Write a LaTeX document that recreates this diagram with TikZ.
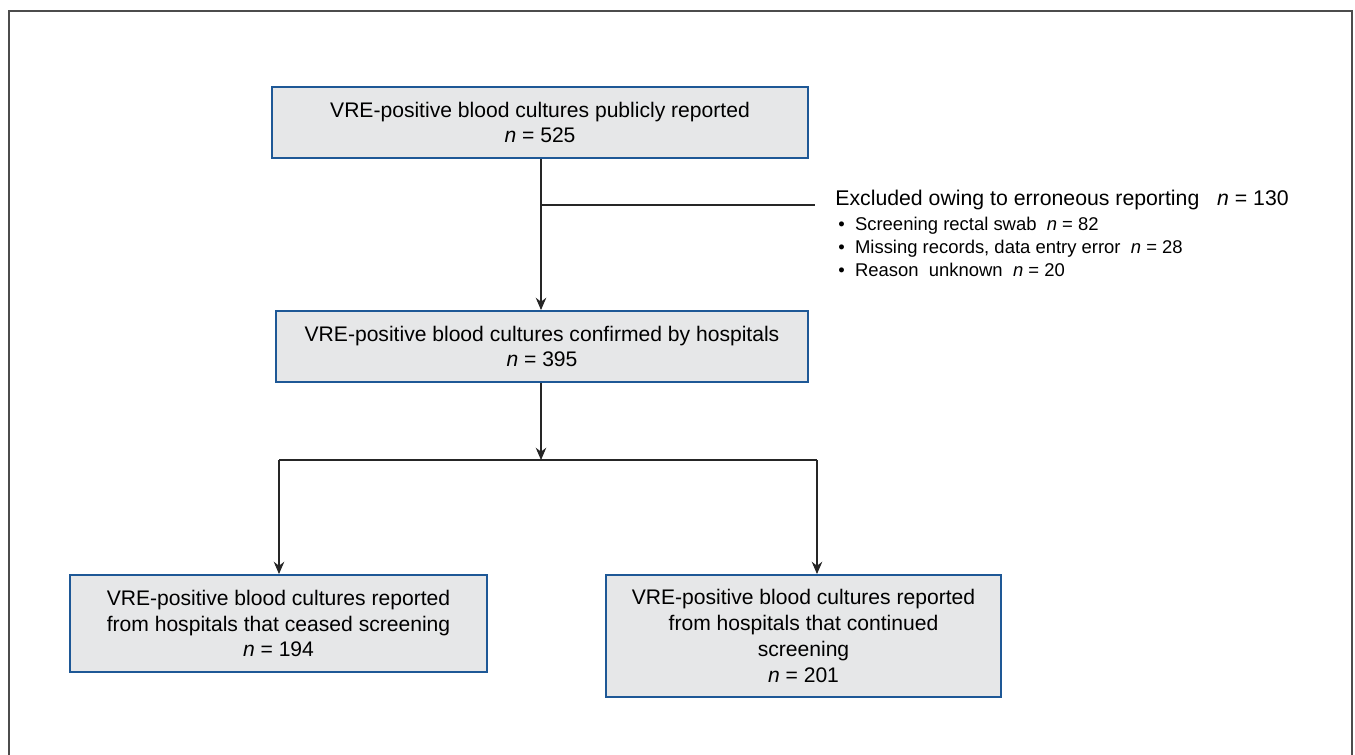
\documentclass[tikz,border=0pt]{standalone}
\usepackage{fontspec}
\setmainfont{Liberation Sans}
\usetikzlibrary{arrows.meta}
\definecolor{bleuboite}{RGB}{30,88,150}
\definecolor{grisboite}{RGB}{230,231,232}
\newcommand{\effectif}[1]{\textit{n} = #1}

\begin{document}
\begin{tikzpicture}
\tikzstyle{lien}=[->,>={Stealth[length=7pt,width=6pt]},line width=0.6pt,draw=black!85]
\tikzstyle{trait}=[line width=1.3pt,draw=black!85]
\tikzset{boite/.style={draw=bleuboite,line width=1.1pt,fill=grisboite,align=center,
font=\fontsize{12}{14.7}\selectfont,minimum width=#1,minimum height=1.42cm},
boite/.default={10.72cm}}
\useasboundingbox (0,0) rectangle (27.1,-15.1);
\draw[black!70,line width=1pt] (0.18,-15.1) |- (27.04,-0.22) -- (27.04,-15.1);

\node[boite] (A) at (10.8,-2.45) {VRE-positive blood cultures publicly reported\\ \effectif{525}};
\node[boite=10.64cm] (B) at (10.84,-6.93) {VRE-positive blood cultures confirmed by hospitals\\ \effectif{395}};
\node[boite=8.34cm,minimum height=1.94cm] (B1) at (5.57,-12.47) {VRE-positive blood cultures reported\\ from hospitals that ceased screening\\ \effectif{194}};
\node[boite=7.9cm,minimum height=2.44cm] (B2) at (16.07,-12.72) {VRE-positive blood cultures reported\\ from hospitals that continued\\ screening\\ \effectif{201}};

\coordinate (E) at (16.3,-4.1);
\coordinate (S) at (10.82,-9.2);
\coordinate (S1) at (5.58,-9.2);
\coordinate (S2) at (16.34,-9.2);

\node[anchor=west,inner sep=0pt,font=\fontsize{12.1}{14.7}\selectfont] (X) at (16.7,-4.0) {Excluded owing to erroneous reporting\ \ \ \effectif{130}};
\node[anchor=north west,inner sep=0pt,align=left,font=\fontsize{10.5}{13.2}\selectfont] (X1) at (16.76,-4.33) {\textbullet\ \ Screening rectal swab\ \ \effectif{82}\\
\textbullet\ \ Missing records, data entry error\ \ \effectif{28}\\
\textbullet\ \ Reason\ \ unknown\ \ \effectif{20}};

\draw[lien] (A.south -| S) -- (B.north -| S);
\draw[trait] (E -| S) -- (E);
\draw[lien] (B.south -| S) -- (S);
\draw[trait] (S1) -- (S2);
\draw[lien] (S1) -- (B1.north -| S1);
\draw[lien] (S2) -- (B2.north -| S2);

\end{tikzpicture}
\end{document}
